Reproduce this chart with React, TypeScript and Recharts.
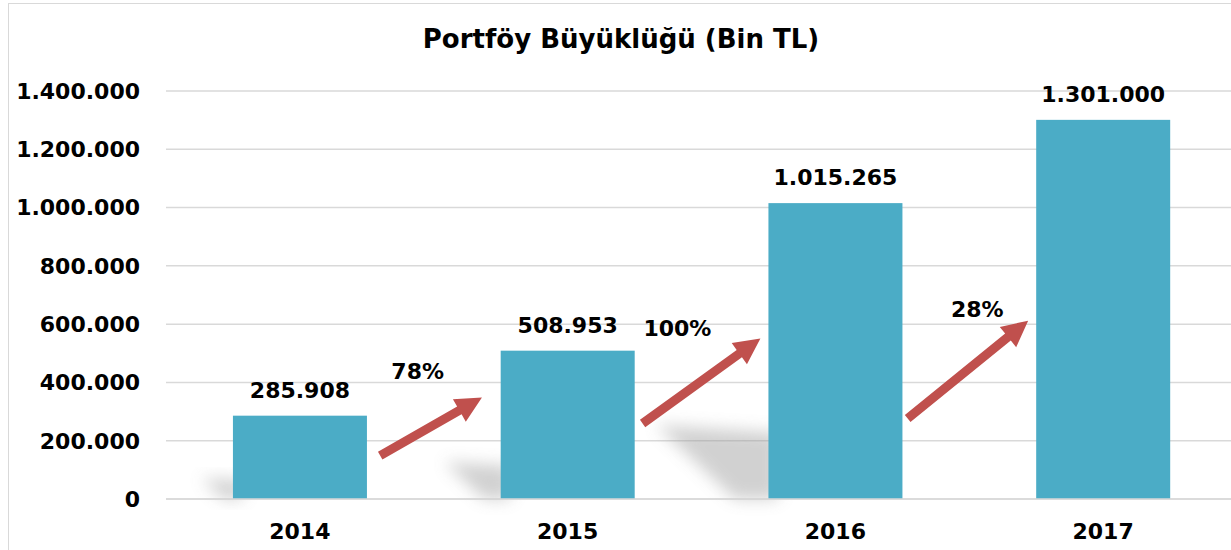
import React from 'react'
import {
  BarChart, Bar, XAxis, YAxis, CartesianGrid, LabelList,
  ReferenceLine, ReferenceDot,
} from 'recharts'

const years = ['2014', '2015', '2016', '2017']
const portfolio = [285908, 508953, 1015265, 1301000]
const yTicks = [0, 200000, 400000, 600000, 800000, 1000000, 1200000, 1400000]

// growth arrows between bars: x in category units (0..4), y in Bin TL
const growthLabels = ['78%', '100%', '28%']
const arrowFrom = [
  { x: 0.8, y: 149000 },
  { x: 1.78, y: 259000 },
  { x: 2.77, y: 276000 },
]
const arrowTo = [
  { x: 1.18, y: 348000 },
  { x: 2.22, y: 551000 },
  { x: 3.22, y: 612000 },
]
const labelAt = [
  { x: 0.94, y: 437000 },
  { x: 1.91, y: 585000 },
  { x: 3.03, y: 650000 },
]

// pos = centre of each category in the same 0..4 units
const data = years.map((year, i) => ({ year, value: portfolio[i], pos: i + 0.5 }))

const FONT = '"DejaVu Sans", Verdana, sans-serif'
const BLUE = '#4BACC6'
const RED = '#C0504D'

const fmtTR = (v: number) => String(Math.round(v)).replace(/\B(?=(\d{3})+(?!\d))/g, '.')

function Arrow(props: any) {
  const { x1, y1, x2, y2 } = props
  const dx = x2 - x1
  const dy = y2 - y1
  const len = Math.sqrt(dx * dx + dy * dy)
  const ux = dx / len
  const uy = dy / len
  const px = -uy
  const py = ux
  const headLen = 26
  const headW = 13
  const shaftW = 4.5
  const bx = x2 - ux * headLen
  const by = y2 - uy * headLen
  const pts = [
    [x1 + px * shaftW, y1 + py * shaftW],
    [bx + px * shaftW, by + py * shaftW],
    [bx + px * headW, by + py * headW],
    [x2, y2],
    [bx - px * headW, by - py * headW],
    [bx - px * shaftW, by - py * shaftW],
    [x1 - px * shaftW, y1 - py * shaftW],
  ]
  return <polygon points={pts.map((p) => p.join(',')).join(' ')} fill={RED} />
}

function ShadowBar(props: any) {
  const { x, y, width, height, fill, index } = props
  const bottom = y + height
  const sh = height * 0.25
  const sw = height * 0.38
  return (
    <g>
      {index < 3 && (
        <polygon
          points={`${x + 10},${bottom} ${x - sw * 0.3},${bottom} ${x - sw},${bottom - sh} ${x + 10},${bottom - sh * 0.9}`}
          fill="#9a9a9a"
          opacity={0.45}
          filter="url(#barShadow)"
        />
      )}
      <rect x={x} y={y} width={width} height={height} fill={fill} />
    </g>
  )
}

export default function App() {
  return (
    <div style={{ position: 'absolute', left: 0, top: 0, width: 1231, height: 550, overflow: 'hidden', background: '#fff' }}>
      <div style={{
        position: 'absolute', left: 8, top: 3, width: 1240, height: 560,
        border: '1.5px solid #d9d9d9', boxSizing: 'border-box',
      }} />
      <div style={{
        position: 'absolute', left: 0, top: 24, width: 1242, textAlign: 'center',
        fontFamily: FONT, fontWeight: 'bold', fontSize: 26, color: '#000',
      }}>
        Portföy Büyüklüğü (Bin TL)
      </div>
      <div style={{ position: 'absolute', left: 0, top: 0 }}>
        <BarChart
          width={1237}
          height={550}
          data={data}
          margin={{ top: 91, right: 0, bottom: 0, left: 0 }}
          barCategoryGap="25%"
        >
          <defs>
            <filter id="barShadow" x="-50%" y="-50%" width="200%" height="200%">
              <feGaussianBlur stdDeviation="8" />
            </filter>
          </defs>
          <CartesianGrid vertical={false} stroke="#d9d9d9" strokeWidth={1.5} />
          <XAxis
            xAxisId="cat"
            dataKey="year"
            height={51}
            axisLine={{ stroke: '#d9d9d9', strokeWidth: 1.5 }}
            tickLine={false}
            tickMargin={18}
            tick={{ fill: '#000', fontFamily: FONT, fontWeight: 'bold', fontSize: 22 }}
          />
          <XAxis xAxisId="num" dataKey="pos" type="number" domain={[0, 4]} allowDataOverflow hide />
          <YAxis
            width={166}
            domain={[0, 1400000]}
            ticks={yTicks}
            interval={0}
            axisLine={false}
            tickLine={false}
            tickMargin={20}
            tickFormatter={fmtTR}
            tick={{ fill: '#000', fontFamily: FONT, fontWeight: 'bold', fontSize: 22 }}
          />
          <Bar xAxisId="cat" dataKey="value" fill={BLUE} isAnimationActive={false} shape={<ShadowBar />}>
            <LabelList
              dataKey="value"
              position="top"
              offset={18}
              formatter={(v: any) => fmtTR(Number(v))}
              style={{ fill: '#000', fontFamily: FONT, fontWeight: 'bold', fontSize: 22 }}
            />
          </Bar>
          {arrowFrom.map((a, i) => (
            <ReferenceLine
              key={'ar' + i}
              xAxisId="num"
              segment={[a, arrowTo[i]]}
              ifOverflow="visible"
              shape={(p: any) => <Arrow {...p} />}
            />
          ))}
          {labelAt.map((l, i) => (
            <ReferenceDot
              key={'lb' + i}
              xAxisId="num"
              x={l.x}
              y={l.y}
              r={0}
              fill="none"
              stroke="none"
              ifOverflow="visible"
              label={{
                value: growthLabels[i],
                position: 'center',
                fill: '#000',
                fontFamily: FONT,
                fontWeight: 'bold',
                fontSize: 22,
              }}
            />
          ))}
        </BarChart>
      </div>
    </div>
  )
}
